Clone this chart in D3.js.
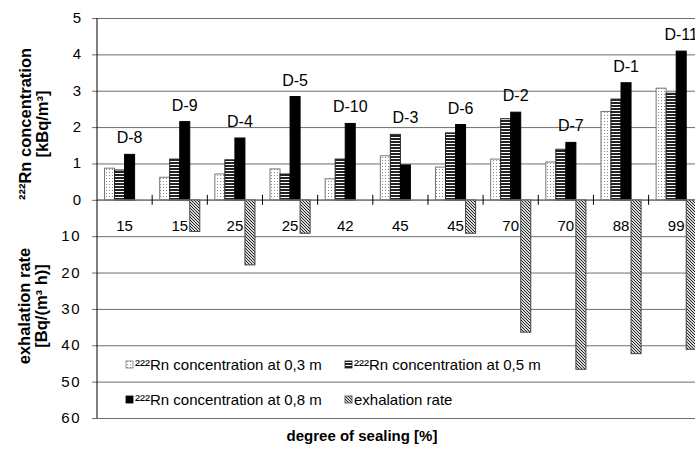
<!DOCTYPE html>
<html lang="en">
<head>
    <meta charset="UTF-8">
    <title>Radon concentration and exhalation rate</title>
    <script src="https://d3js.org/d3.v7.min.js"></script>
    <style>
        body {
            margin: 0;
            background: #fff;
            font-family: "Liberation Sans", Arial, sans-serif;
        }

        .grid line {
            stroke: #6e6e6e;
            stroke-width: 1;
        }

        .tick-label {
            font-size: 15px;
            fill: #000;
        }

        .axis-title {
            font-size: 15px;
            font-weight: bold;
            fill: #000;
        }

        .y-title {
            font-size: 16.5px;
        }

        .legend text {
            font-size: 15px;
        }
    </style>
</head>
<body>
    <div id="chart"></div>
    <script>
        // values
        const categories = ["15", "15", "25", "25", "42", "45", "45", "70", "70", "88", "99"];
        const sites = ["D-8", "D-9", "D-4", "D-5", "D-10", "D-3", "D-6", "D-2", "D-7", "D-1", "D-11"];
        const conc03 = [0.87, 0.62, 0.71, 0.85, 0.58, 1.21, 0.90, 1.12, 1.04, 2.43, 3.07];
        const conc05 = [0.82, 1.12, 1.10, 0.71, 1.12, 1.80, 1.84, 2.23, 1.39, 2.77, 2.93];
        const conc08 = [1.25, 2.15, 1.70, 2.84, 2.10, 0.96, 2.07, 2.41, 1.58, 3.22, 4.09];
        const exhalation = [0, 8.7, 17.9, 9.2, 0, 0, 9.2, 36.4, 46.6, 42.3, 41.1];
        const concTicks = [0, 1, 2, 3, 4, 5];
        const exhTicks = [10, 20, 30, 40, 50, 60];
        const legendLabels = [
            "²²²Rn concentration at 0,3 m",
            "²²²Rn concentration at 0,5 m",
            "²²²Rn concentration at 0,8 m",
            "exhalation rate"
        ];

        const W = 695, H = 457;
        const plotLeft = 97, plotTop = 18, plotBottom = 418;
        const bandW = 55.16;
        const plotRight = plotLeft + bandW * categories.length; // runs past the window edge like the original

        const svg = d3.select("#chart")
            .append("svg")
            .attr("width", W)
            .attr("height", H);

        const defs = svg.append("defs");

        // dotted fill
        const dots = defs.append("pattern")
            .attr("id", "dots")
            .attr("patternUnits", "userSpaceOnUse")
            .attr("width", 3).attr("height", 3);
        dots.append("rect").attr("width", 3).attr("height", 3).attr("fill", "#fff");
        dots.append("rect").attr("x", 1).attr("y", 1).attr("width", 1).attr("height", 1).attr("fill", "#8a8a8a");

        // horizontal stripes
        const stripes = defs.append("pattern")
            .attr("id", "stripes")
            .attr("patternUnits", "userSpaceOnUse")
            .attr("width", 4).attr("height", 3);
        stripes.append("rect").attr("width", 4).attr("height", 3).attr("fill", "#fff");
        stripes.append("rect").attr("width", 4).attr("height", 2).attr("fill", "#222");

        // diagonal hatch
        const hatch = defs.append("pattern")
            .attr("id", "hatch")
            .attr("patternUnits", "userSpaceOnUse")
            .attr("width", 3).attr("height", 3);
        hatch.append("rect").attr("width", 3).attr("height", 3).attr("fill", "#d8d8d8");
        hatch.append("path")
            .attr("d", "M-1,2 l2,2 M0,0 l3,3 M2,-1 l2,2")
            .attr("stroke", "#262626")
            .attr("stroke-width", 1);

        const series = [
            { values: conc03, fill: "url(#dots)", stroke: "#777" },
            { values: conc05, fill: "url(#stripes)", stroke: "#222" },
            { values: conc08, fill: "#000", stroke: "#000" },
            { values: exhalation, fill: "url(#hatch)", stroke: "#444", down: true }
        ];

        const x = d3.scaleBand()
            .domain(d3.range(categories.length))
            .range([plotLeft, plotRight])
            .paddingInner(0)
            .paddingOuter(0);

        // concentration on top, exhalation hanging below the zero line (10 Bq per 1 kBq step)
        const yConc = d3.scaleLinear().domain([-6, 5]).range([plotBottom, plotTop]);
        const yExh = d3.scaleLinear().domain([60, -50]).range([plotBottom, plotTop]);

        const barW = x.bandwidth() / 5.5;
        const barOff = barW * 0.75;

        // gridlines
        svg.append("g")
            .attr("class", "grid")
            .attr("transform", `translate(${plotLeft},0)`)
            .call(d3.axisLeft(yConc).tickValues(concTicks).tickSize(-(plotRight - plotLeft)).tickFormat(""))
            .call(g => g.select(".domain").remove());

        svg.append("g")
            .attr("class", "grid")
            .attr("transform", `translate(${plotLeft},0)`)
            .call(d3.axisLeft(yExh).tickValues(exhTicks).tickSize(-(plotRight - plotLeft)).tickFormat(""))
            .call(g => g.select(".domain").remove());

        // short outer ticks left of the axis
        svg.selectAll(".grid .tick line").attr("x1", -5);

        // bars
        series.forEach((s, si) => {
            svg.append("g")
                .selectAll("rect")
                .data(s.values)
                .join("rect")
                .attr("x", (d, i) => x(i) + barOff + si * barW)
                .attr("width", barW)
                .attr("y", d => s.down ? yExh(0) : yConc(d))
                .attr("height", d => s.down ? yExh(d) - yExh(0) : yConc(0) - yConc(d))
                .attr("fill", s.fill)
                .attr("stroke", d => d > 0 ? s.stroke : "none")
                .attr("stroke-width", 1);
        });

        // zero line with category ticks crossing it
        svg.append("line")
            .attr("x1", plotLeft).attr("x2", plotRight)
            .attr("y1", yConc(0)).attr("y2", yConc(0))
            .attr("stroke", "#7a7a7a");

        svg.append("g")
            .selectAll("line")
            .data(d3.range(1, categories.length))
            .join("line")
            .attr("x1", i => x(i)).attr("x2", i => x(i))
            .attr("y1", yConc(0) - 5).attr("y2", yConc(0) + 5)
            .attr("stroke", "#000");

        // vertical axis line
        svg.append("line")
            .attr("x1", plotLeft).attr("x2", plotLeft)
            .attr("y1", plotTop).attr("y2", plotBottom)
            .attr("stroke", "#000");

        // y tick labels
        svg.append("g")
            .selectAll("text")
            .data(concTicks)
            .join("text")
            .attr("class", "tick-label")
            .attr("x", 81)
            .attr("y", d => yConc(d) + 5)
            .attr("text-anchor", "end")
            .text(d => d);

        svg.append("g")
            .selectAll("text")
            .data(exhTicks)
            .join("text")
            .attr("class", "tick-label")
            .attr("x", 81)
            .attr("y", d => yExh(d) + 5)
            .attr("text-anchor", "end")
            .attr("letter-spacing", "1.5px")
            .text(d => d);

        // category labels below the zero line
        svg.append("g")
            .selectAll("text")
            .data(categories)
            .join("text")
            .attr("class", "tick-label")
            .attr("x", (d, i) => x(i) + x.bandwidth() / 2)
            .attr("y", yConc(0) + 31)
            .attr("text-anchor", "middle")
            .text(d => d);

        // site labels above each group
        svg.append("g")
            .selectAll("text")
            .data(sites)
            .join("text")
            .attr("x", (d, i) => x(i) + barOff + 2.5 * barW)
            .attr("y", (d, i) => yConc(Math.max(conc03[i], conc05[i], conc08[i])) - 11)
            .attr("text-anchor", "middle")
            .attr("font-size", "16px")
            .text(d => d);

        // axis titles
        const t1 = svg.append("text")
            .attr("class", "axis-title y-title")
            .attr("transform", "translate(31,124) rotate(-90)")
            .attr("text-anchor", "middle");
        t1.append("tspan").attr("x", 0).attr("dy", 0).text("²²²Rn concentration");
        t1.append("tspan").attr("x", 0).attr("dy", 17).text("[kBq/m³]");

        const t2 = svg.append("text")
            .attr("class", "axis-title y-title")
            .attr("transform", "translate(30,306) rotate(-90)")
            .attr("text-anchor", "middle");
        t2.append("tspan").attr("x", 0).attr("dy", 0).text("exhalation rate");
        t2.append("tspan").attr("x", 0).attr("dy", 17).text("[Bq/(m³ h)]");

        svg.append("text")
            .attr("class", "axis-title")
            .attr("x", 362)
            .attr("y", 441)
            .attr("text-anchor", "middle")
            .text("degree of sealing [%]");

        // legend, drawn straight on the grid
        const legendPos = [[126, 365], [345, 365], [126, 400], [345, 400]];
        const legend = svg.append("g").attr("class", "legend");
        legendLabels.forEach((label, i) => {
            const [lx, ly] = legendPos[i];
            legend.append("rect")
                .attr("x", lx).attr("y", ly - 4)
                .attr("width", 7).attr("height", 7)
                .attr("fill", series[i].fill)
                .attr("stroke", series[i].stroke)
                .attr("stroke-width", 0.8);
            legend.append("text")
                .attr("x", lx + 9)
                .attr("y", ly + 5)
                .text(label);
        });
    </script>
</body>
</html>
